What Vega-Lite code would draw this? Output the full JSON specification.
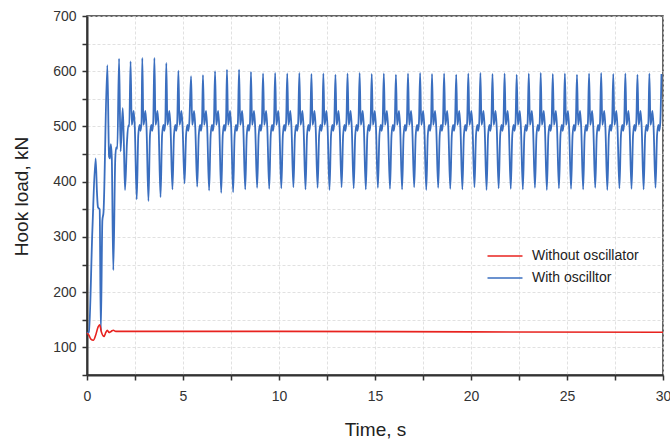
{
"$schema": "https://vega.github.io/schema/vega-lite/v6.json",
"width": 576, "height": 359,
"autosize": "none",
"padding": {"left": 87, "top": 16, "right": 7, "bottom": 67},
"background": "white",
"config": {
 "font": "Liberation Sans",
 "view": {"stroke": "#333", "strokeWidth": 1.5},
 "axis": {"domainColor": "#333", "domainWidth": 2, "tickColor": "#333", "tickWidth": 1.5, "tickSize": 5, "labelFontSize": 14, "labelColor": "#333", "titleFontSize": 19, "titleFontWeight": "normal", "titleColor": "#222", "gridColor": "#d9d9d9", "gridDash": [3, 2], "gridWidth": 0.8}
},
"datasets": {
 "red": [
  {"t":0,"v":126},{"t":0.1,"v":122},{"t":0.2,"v":115},{"t":0.33,"v":113},{"t":0.45,"v":122},{"t":0.58,"v":137},{"t":0.66,"v":141},{"t":0.75,"v":128},{"t":0.89,"v":120},{"t":0.98,"v":127},{"t":1.06,"v":131},{"t":1.15,"v":127},{"t":1.22,"v":128},{"t":1.3,"v":130},{"t":1.37,"v":131},{"t":1.5,"v":129},{"t":3,"v":129},{"t":10,"v":129},{"t":20,"v":128},{"t":30,"v":127.5}
 ],
 "blue": [
  {"t":0,"v":126},{"t":0.1,"v":128},{"t":0.28,"v":312},{"t":0.45,"v":442},{"t":0.52,"v":380},{"t":0.57,"v":354},{"t":0.66,"v":350},{"t":0.72,"v":130},{"t":0.8,"v":330},{"t":0.86,"v":345},
  {"t":1.06,"v":611},{"t":1.15,"v":445},{"t":1.2,"v":442},{"t":1.24,"v":468},{"t":1.29,"v":445},{"t":1.37,"v":240},{"t":1.47,"v":440},{"t":1.52,"v":462},{"t":1.58,"v":460},
  {"t":1.67,"v":623},{"t":1.75,"v":455},{"t":1.86,"v":533},{"t":1.92,"v":470},{"t":1.98,"v":385},{"t":2.08,"v":470},{"t":2.15,"v":502},{"t":2.2,"v":500},
  {"t":2.27,"v":618},{"t":2.33,"v":503},{"t":2.37,"v":510},{"t":2.43,"v":528},{"t":2.49,"v":498},{"t":2.59,"v":368},{"t":2.67,"v":484},{"t":2.74,"v":503},{"t":2.79,"v":492},{"t":2.84,"v":508},
  {"t":2.88,"v":624},{"t":2.94,"v":503},{"t":2.98,"v":510},{"t":3.04,"v":528},{"t":3.1,"v":498},{"t":3.2,"v":365},{"t":3.28,"v":484},{"t":3.35,"v":503},{"t":3.4,"v":492},{"t":3.45,"v":508},
  {"t":3.51,"v":624},{"t":3.57,"v":503},{"t":3.61,"v":510},{"t":3.67,"v":528},{"t":3.73,"v":498},{"t":3.83,"v":372},{"t":3.91,"v":484},{"t":3.98,"v":503},{"t":4.03,"v":492},{"t":4.08,"v":508},
  {"t":4.13,"v":615},{"t":4.19,"v":503},{"t":4.23,"v":510},{"t":4.29,"v":528},{"t":4.35,"v":498},{"t":4.45,"v":386},{"t":4.53,"v":484},{"t":4.6,"v":503},{"t":4.65,"v":492},{"t":4.7,"v":508},
  {"t":4.76,"v":601},{"t":4.82,"v":503},{"t":4.86,"v":510},{"t":4.92,"v":528},{"t":4.98,"v":498},{"t":5.08,"v":397},{"t":5.16,"v":484},{"t":5.23,"v":503},{"t":5.28,"v":492},{"t":5.33,"v":508},
  {"t":5.42,"v":591},{"t":5.48,"v":503},{"t":5.52,"v":510},{"t":5.58,"v":528},{"t":5.64,"v":498},{"t":5.74,"v":391},{"t":5.82,"v":484},{"t":5.89,"v":503},{"t":5.94,"v":492},{"t":5.99,"v":508},
  {"t":6.04,"v":593},{"t":6.1,"v":503},{"t":6.14,"v":510},{"t":6.2,"v":528},{"t":6.26,"v":498},{"t":6.36,"v":384},{"t":6.44,"v":484},{"t":6.51,"v":503},{"t":6.56,"v":492},{"t":6.61,"v":508},
  {"t":6.67,"v":600},{"t":6.73,"v":503},{"t":6.77,"v":510},{"t":6.83,"v":528},{"t":6.89,"v":498},{"t":6.99,"v":380},{"t":7.07,"v":484},{"t":7.14,"v":503},{"t":7.19,"v":492},{"t":7.24,"v":508},
  {"t":7.29,"v":603},{"t":7.35,"v":503},{"t":7.39,"v":510},{"t":7.45,"v":528},{"t":7.51,"v":498},{"t":7.61,"v":381},{"t":7.69,"v":484},{"t":7.76,"v":503},{"t":7.81,"v":492},{"t":7.86,"v":508},
  {"t":7.92,"v":603},{"t":7.98,"v":503},{"t":8.02,"v":510},{"t":8.08,"v":528},{"t":8.14,"v":498},{"t":8.24,"v":386},{"t":8.32,"v":484},{"t":8.39,"v":503},{"t":8.44,"v":492},{"t":8.49,"v":508},
  {"t":8.54,"v":599},{"t":8.6,"v":503},{"t":8.64,"v":510},{"t":8.7,"v":528},{"t":8.76,"v":498},{"t":8.86,"v":389},{"t":8.94,"v":484},{"t":9.01,"v":503},{"t":9.06,"v":492},{"t":9.11,"v":508},
  {"t":9.17,"v":596},{"t":9.23,"v":503},{"t":9.27,"v":510},{"t":9.33,"v":528},{"t":9.39,"v":498},{"t":9.49,"v":387},{"t":9.57,"v":484},{"t":9.64,"v":503},{"t":9.69,"v":492},{"t":9.74,"v":508},
  {"t":9.8,"v":597},{"t":9.86,"v":503},{"t":9.9,"v":510},{"t":9.96,"v":528},{"t":10.02,"v":498},{"t":10.12,"v":388},{"t":10.2,"v":484},{"t":10.27,"v":503},{"t":10.32,"v":492},{"t":10.37,"v":508},
  {"t":10.43,"v":596},{"t":10.49,"v":503},{"t":10.53,"v":510},{"t":10.59,"v":528},{"t":10.65,"v":498},{"t":10.75,"v":390},{"t":10.83,"v":484},{"t":10.9,"v":503},{"t":10.95,"v":492},{"t":11.0,"v":508},
  {"t":11.06,"v":597},{"t":11.12,"v":503},{"t":11.16,"v":510},{"t":11.22,"v":528},{"t":11.28,"v":498},{"t":11.38,"v":386},{"t":11.46,"v":484},{"t":11.53,"v":503},{"t":11.58,"v":492},{"t":11.63,"v":508},
  {"t":11.69,"v":595},{"t":11.75,"v":503},{"t":11.79,"v":510},{"t":11.85,"v":528},{"t":11.91,"v":498},{"t":12.01,"v":389},{"t":12.09,"v":484},{"t":12.16,"v":503},{"t":12.21,"v":492},{"t":12.26,"v":508},
  {"t":12.31,"v":596},{"t":12.37,"v":503},{"t":12.41,"v":510},{"t":12.47,"v":528},{"t":12.53,"v":498},{"t":12.63,"v":385},{"t":12.71,"v":484},{"t":12.78,"v":503},{"t":12.83,"v":492},{"t":12.88,"v":508},
  {"t":12.94,"v":594},{"t":13.0,"v":503},{"t":13.04,"v":510},{"t":13.1,"v":528},{"t":13.16,"v":498},{"t":13.26,"v":390},{"t":13.34,"v":484},{"t":13.41,"v":503},{"t":13.46,"v":492},{"t":13.51,"v":508},
  {"t":13.57,"v":596},{"t":13.63,"v":503},{"t":13.67,"v":510},{"t":13.73,"v":528},{"t":13.79,"v":498},{"t":13.89,"v":388},{"t":13.97,"v":484},{"t":14.04,"v":503},{"t":14.09,"v":492},{"t":14.14,"v":508},
  {"t":14.2,"v":597},{"t":14.26,"v":503},{"t":14.3,"v":510},{"t":14.36,"v":528},{"t":14.42,"v":498},{"t":14.52,"v":386},{"t":14.6,"v":484},{"t":14.67,"v":503},{"t":14.72,"v":492},{"t":14.77,"v":508},
  {"t":14.83,"v":595},{"t":14.89,"v":503},{"t":14.93,"v":510},{"t":14.99,"v":528},{"t":15.05,"v":498},{"t":15.15,"v":389},{"t":15.23,"v":484},{"t":15.3,"v":503},{"t":15.35,"v":492},{"t":15.4,"v":508},
  {"t":15.46,"v":596},{"t":15.52,"v":503},{"t":15.56,"v":510},{"t":15.62,"v":528},{"t":15.68,"v":498},{"t":15.78,"v":387},{"t":15.86,"v":484},{"t":15.93,"v":503},{"t":15.98,"v":492},{"t":16.03,"v":508},
  {"t":16.09,"v":594},{"t":16.15,"v":503},{"t":16.19,"v":510},{"t":16.25,"v":528},{"t":16.31,"v":498},{"t":16.41,"v":386},{"t":16.49,"v":484},{"t":16.56,"v":503},{"t":16.61,"v":492},{"t":16.66,"v":508},
  {"t":16.72,"v":596},{"t":16.78,"v":503},{"t":16.82,"v":510},{"t":16.88,"v":528},{"t":16.94,"v":498},{"t":17.04,"v":390},{"t":17.12,"v":484},{"t":17.19,"v":503},{"t":17.24,"v":492},{"t":17.29,"v":508},
  {"t":17.35,"v":597},{"t":17.41,"v":503},{"t":17.45,"v":510},{"t":17.51,"v":528},{"t":17.57,"v":498},{"t":17.67,"v":385},{"t":17.75,"v":484},{"t":17.82,"v":503},{"t":17.87,"v":492},{"t":17.92,"v":508},
  {"t":17.97,"v":595},{"t":18.03,"v":503},{"t":18.07,"v":510},{"t":18.13,"v":528},{"t":18.19,"v":498},{"t":18.29,"v":389},{"t":18.37,"v":484},{"t":18.44,"v":503},{"t":18.49,"v":492},{"t":18.54,"v":508},
  {"t":18.6,"v":596},{"t":18.66,"v":503},{"t":18.7,"v":510},{"t":18.76,"v":528},{"t":18.82,"v":498},{"t":18.92,"v":387},{"t":19.0,"v":484},{"t":19.07,"v":503},{"t":19.12,"v":492},{"t":19.17,"v":508},
  {"t":19.23,"v":594},{"t":19.29,"v":503},{"t":19.33,"v":510},{"t":19.39,"v":528},{"t":19.45,"v":498},{"t":19.55,"v":386},{"t":19.63,"v":484},{"t":19.7,"v":503},{"t":19.75,"v":492},{"t":19.8,"v":508},
  {"t":19.86,"v":596},{"t":19.92,"v":503},{"t":19.96,"v":510},{"t":20.02,"v":528},{"t":20.08,"v":498},{"t":20.18,"v":390},{"t":20.26,"v":484},{"t":20.33,"v":503},{"t":20.38,"v":492},{"t":20.43,"v":508},
  {"t":20.49,"v":597},{"t":20.55,"v":503},{"t":20.59,"v":510},{"t":20.65,"v":528},{"t":20.71,"v":498},{"t":20.81,"v":385},{"t":20.89,"v":484},{"t":20.96,"v":503},{"t":21.01,"v":492},{"t":21.06,"v":508},
  {"t":21.12,"v":595},{"t":21.18,"v":503},{"t":21.22,"v":510},{"t":21.28,"v":528},{"t":21.34,"v":498},{"t":21.44,"v":388},{"t":21.52,"v":484},{"t":21.59,"v":503},{"t":21.64,"v":492},{"t":21.69,"v":508},
  {"t":21.75,"v":596},{"t":21.81,"v":503},{"t":21.85,"v":510},{"t":21.91,"v":528},{"t":21.97,"v":498},{"t":22.07,"v":387},{"t":22.15,"v":484},{"t":22.22,"v":503},{"t":22.27,"v":492},{"t":22.32,"v":508},
  {"t":22.38,"v":594},{"t":22.44,"v":503},{"t":22.48,"v":510},{"t":22.54,"v":528},{"t":22.6,"v":498},{"t":22.7,"v":386},{"t":22.78,"v":484},{"t":22.85,"v":503},{"t":22.9,"v":492},{"t":22.95,"v":508},
  {"t":23.01,"v":596},{"t":23.07,"v":503},{"t":23.11,"v":510},{"t":23.17,"v":528},{"t":23.23,"v":498},{"t":23.33,"v":389},{"t":23.41,"v":484},{"t":23.48,"v":503},{"t":23.53,"v":492},{"t":23.58,"v":508},
  {"t":23.63,"v":597},{"t":23.69,"v":503},{"t":23.73,"v":510},{"t":23.79,"v":528},{"t":23.85,"v":498},{"t":23.95,"v":385},{"t":24.03,"v":484},{"t":24.1,"v":503},{"t":24.15,"v":492},{"t":24.2,"v":508},
  {"t":24.26,"v":595},{"t":24.32,"v":503},{"t":24.36,"v":510},{"t":24.42,"v":528},{"t":24.48,"v":498},{"t":24.58,"v":388},{"t":24.66,"v":484},{"t":24.73,"v":503},{"t":24.78,"v":492},{"t":24.83,"v":508},
  {"t":24.89,"v":596},{"t":24.95,"v":503},{"t":24.99,"v":510},{"t":25.05,"v":528},{"t":25.11,"v":498},{"t":25.21,"v":387},{"t":25.29,"v":484},{"t":25.36,"v":503},{"t":25.41,"v":492},{"t":25.46,"v":508},
  {"t":25.52,"v":594},{"t":25.58,"v":503},{"t":25.62,"v":510},{"t":25.68,"v":528},{"t":25.74,"v":498},{"t":25.84,"v":386},{"t":25.92,"v":484},{"t":25.99,"v":503},{"t":26.04,"v":492},{"t":26.09,"v":508},
  {"t":26.15,"v":596},{"t":26.21,"v":503},{"t":26.25,"v":510},{"t":26.31,"v":528},{"t":26.37,"v":498},{"t":26.47,"v":389},{"t":26.55,"v":484},{"t":26.62,"v":503},{"t":26.67,"v":492},{"t":26.72,"v":508},
  {"t":26.78,"v":597},{"t":26.84,"v":503},{"t":26.88,"v":510},{"t":26.94,"v":528},{"t":27.0,"v":498},{"t":27.1,"v":385},{"t":27.18,"v":484},{"t":27.25,"v":503},{"t":27.3,"v":492},{"t":27.35,"v":508},
  {"t":27.41,"v":595},{"t":27.47,"v":503},{"t":27.51,"v":510},{"t":27.57,"v":528},{"t":27.63,"v":498},{"t":27.73,"v":388},{"t":27.81,"v":484},{"t":27.88,"v":503},{"t":27.93,"v":492},{"t":27.98,"v":508},
  {"t":28.04,"v":596},{"t":28.1,"v":503},{"t":28.14,"v":510},{"t":28.2,"v":528},{"t":28.26,"v":498},{"t":28.36,"v":387},{"t":28.44,"v":484},{"t":28.51,"v":503},{"t":28.56,"v":492},{"t":28.61,"v":508},
  {"t":28.67,"v":594},{"t":28.73,"v":503},{"t":28.77,"v":510},{"t":28.83,"v":528},{"t":28.89,"v":498},{"t":28.99,"v":386},{"t":29.07,"v":484},{"t":29.14,"v":503},{"t":29.19,"v":492},{"t":29.24,"v":508},
  {"t":29.29,"v":596},{"t":29.35,"v":503},{"t":29.39,"v":510},{"t":29.45,"v":528},{"t":29.51,"v":498},{"t":29.61,"v":389},{"t":29.69,"v":484},{"t":29.76,"v":503},{"t":29.81,"v":492},{"t":29.86,"v":508},
  {"t":29.92,"v":595}
 ]
},
"encoding": {
 "x": {"field": "t", "type": "quantitative", "scale": {"domain": [0, 30], "nice": false},
  "axis": {"title": "Time, s", "values": [0,2.5,5,7.5,10,12.5,15,17.5,20,22.5,25,27.5,30], "labelExpr": "datum.value % 5 === 0 ? datum.label : ''", "labelPadding": 9, "titlePadding": 17, "labelFlush": false}},
 "y": {"field": "v", "type": "quantitative", "scale": {"domain": [50, 700], "nice": false},
  "axis": {"title": "Hook load, kN", "values": [50,100,150,200,250,300,350,400,450,500,550,600,650,700], "labelExpr": "datum.value % 100 === 0 ? datum.label : ''", "labelPadding": 6, "titlePadding": 21, "titleY": 180}},
 "color": {"datum": "x", "type": "nominal"}
},
"layer": [
 {"data": {"name": "blue"}, "mark": {"type": "line", "strokeWidth": 1.8, "interpolate": "monotone"},
  "encoding": {"color": {"datum": "With oscilltor", "type": "nominal",
   "scale": {"domain": ["Without oscillator", "With oscilltor"], "range": ["#e8231f", "#3a6ebf"]},
   "legend": {"orient": "none", "legendX": 408, "legendY": 230, "title": null, "symbolType": "M-2,0H2", "symbolSize": 306, "symbolStrokeWidth": 1.6, "symbolFillColor": "transparent", "labelFontSize": 14, "labelColor": "#222", "labelOffset": 17, "rowPadding": 5, "padding": 0}}}},
 {"data": {"name": "red"}, "mark": {"type": "line", "strokeWidth": 1.6, "interpolate": "monotone"},
  "encoding": {"color": {"datum": "Without oscillator", "type": "nominal"}}}
]
}
